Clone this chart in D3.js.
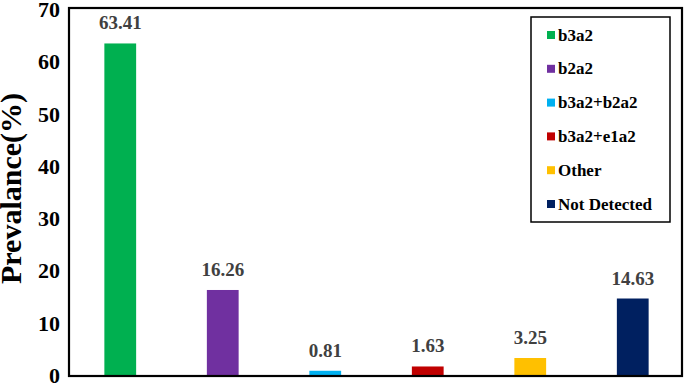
<!DOCTYPE html>
<html><head><meta charset="utf-8">
<script src="https://cdn.jsdelivr.net/npm/d3@7"></script>
<style>body{margin:0;background:#fff}svg{display:block}svg text{font-family:"Liberation Serif","Times New Roman",serif;font-weight:bold}</style>
</head><body>
<script>
const categories = ["b3a2","b2a2","b3a2+b2a2","b3a2+e1a2","Other","Not Detected"];
const values = [63.41,16.26,0.81,1.63,3.25,14.63];
const colors = ["#00B050","#7030A0","#00B0F0","#C00000","#FFC000","#002060"];
const yTicks = [0,10,20,30,40,50,60,70];

const W=685,H=383;
const svg=d3.select("body").append("svg").attr("width",W).attr("height",H);
const x0=69,x1=684,yTop=9,yBot=375;
const x=d3.scaleBand().domain(categories).range([x0,x1]).paddingInner(0.69).paddingOuter(0.345);
const y=d3.scaleLinear().domain([0,70]).range([yBot,yTop]);

svg.selectAll("rect.bar").data(values).enter().append("rect")
 .attr("x",(d,i)=>x(categories[i])).attr("width",x.bandwidth())
 .attr("y",d=>y(d)).attr("height",d=>yBot+1-y(d)).attr("fill",(d,i)=>colors[i]);

svg.selectAll("text.val").data(values).enter().append("text")
 .attr("x",(d,i)=>x(categories[i])+x.bandwidth()/2).attr("y",d=>y(d)-14)
 .attr("text-anchor","middle")
 .attr("font-size",19).attr("fill","#404040").text(d=>d.toFixed(2));

// frame
svg.append("rect").attr("x",69).attr("y",8).attr("width",613).attr("height",368)
 .attr("fill","none").attr("stroke","#000").attr("stroke-width",2.2);

const ax=svg.append("g").attr("transform",`translate(${x0},0)`)
 .call(d3.axisLeft(y).tickValues(yTicks).tickSize(0).tickPadding(9));
ax.select(".domain").remove();
ax.selectAll("text").attr("font-size",22).attr("fill","#000").attr("dy","0.34em");

svg.append("text").attr("transform","translate(21,188.5) rotate(-90)").attr("text-anchor","middle")
 .attr("font-size",30).attr("fill","#000").text("Prevalance(%)");

// legend
const lg=svg.append("g");
lg.append("rect").attr("x",531).attr("y",17).attr("width",139).attr("height",205)
 .attr("fill","#fff").attr("stroke","#000").attr("stroke-width",1.5);
categories.forEach((c,i)=>{
  const cy=35+i*33.8;
  lg.append("rect").attr("x",547).attr("y",cy-4).attr("width",8).attr("height",8).attr("fill",colors[i]);
  lg.append("text").attr("x",558).attr("y",cy+5.5)
   .attr("font-size",17).attr("fill","#000").text(c);
});
</script>
</body></html>
